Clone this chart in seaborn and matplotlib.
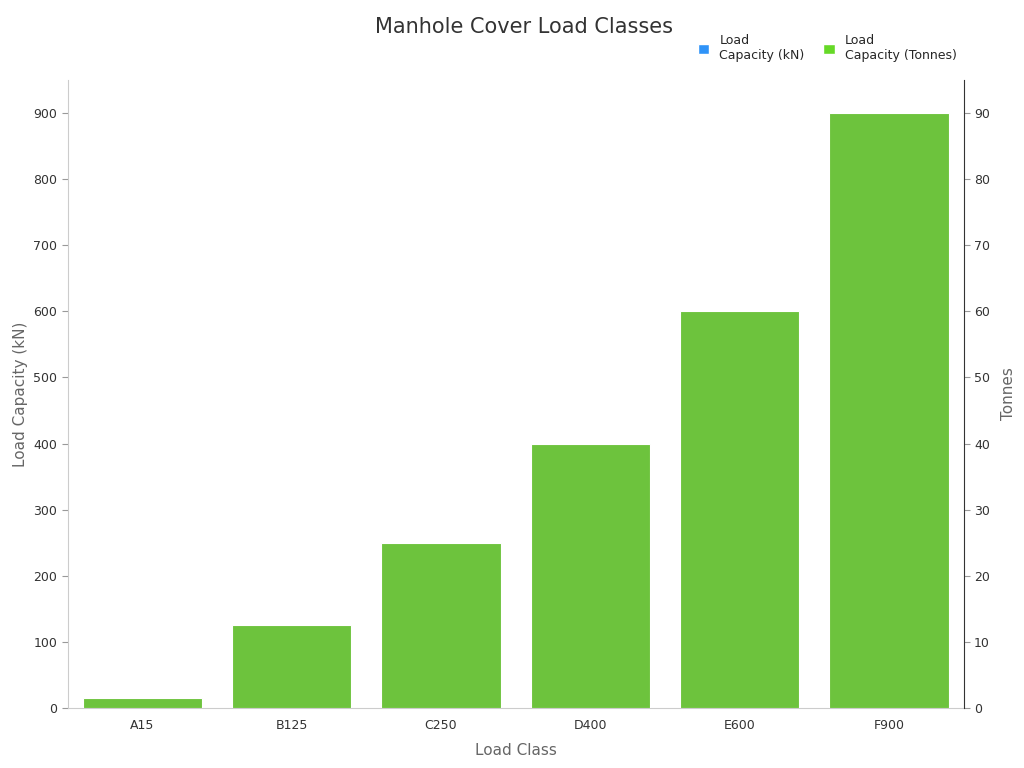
import matplotlib
matplotlib.use("Agg")
import matplotlib.pyplot as plt
import seaborn as sns
import pandas as pd
from matplotlib.patches import Patch

classes = ["A15", "B125", "C250", "D400", "E600", "F900"]
kn = [15, 125, 250, 400, 600, 900]
tonnes = [1.5, 12.5, 25, 40, 60, 90]
kn_labels = ["15", "125", "250", "400", "600", "900"]
t_labels = ["1.5", "12.5", "25", "40", "60", "90"]
series = ["Load\nCapacity (kN)", "Load\nCapacity (Tonnes)"]
colors = ["#2f93f8", "#66d927"]

sns.set_style("white")
plt.rcParams['font.family'] = ['DejaVu Sans']

df_kn = pd.DataFrame({"cls": classes, "val": kn, "s": series[0]})
df_t = pd.DataFrame({"cls": classes, "val": tonnes, "s": series[1]})

fig = plt.figure(figsize=(10.24, 7.68), dpi=100)
ax = fig.add_axes([0.066, 0.078, 0.875, 0.818])
ax2 = ax.twinx()
pal = dict(zip(series, colors))
sns.barplot(data=df_kn, x="cls", y="val", hue="s", hue_order=series, palette=pal,
            ax=ax, width=0.8, edgecolor="white", linewidth=0.8, legend=False)
sns.barplot(data=df_t, x="cls", y="val", hue="s", hue_order=series, palette=pal,
            ax=ax2, width=0.8, edgecolor="white", linewidth=0.8, legend=False)
ax.set_ylim(0, 950)
ax2.set_ylim(0, 95)
ax.set_yticks(range(0, 901, 100))
ax2.set_yticks(range(0, 91, 10))

for c, lab in zip(ax.containers, [kn_labels]):
    for bar, l in zip(c, lab):
        fs = 4 if l == "15" else 9
        ax.text(bar.get_x() + bar.get_width() / 2, bar.get_height() - (3 if fs == 4 else 12),
                l, ha="center", va="center", fontsize=fs, color="#333333")
for c, lab in zip(ax2.containers, [t_labels]):
    for bar, l in zip(c, lab):
        fs = 4 if l == "1.5" else 9
        ax2.text(bar.get_x() + bar.get_width() / 2, bar.get_height() - (0.3 if fs == 4 else 1.2),
                 l, ha="center", va="center", fontsize=fs, color="#333333")

ax.set_xlabel("Load Class", fontsize=11, color="#666666", labelpad=8)
ax.set_ylabel("Load Capacity (kN)", fontsize=11, color="#666666")
ax2.set_ylabel("Tonnes", fontsize=11, color="#666666", labelpad=8)
for a in (ax, ax2):
    a.tick_params(axis="both", labelsize=9, colors="#333333", length=4, color="#999999")
    for s in a.spines.values():
        s.set_color("#cccccc")
    a.spines["top"].set_visible(False)
ax.spines["right"].set_visible(False)
ax2.spines["left"].set_visible(False)
ax2.spines["bottom"].set_visible(False)
ax2.spines["right"].set_color("#333333")
ax.spines["left"].set_color("#cccccc")
ax.tick_params(axis="x", length=4)

fig.text(0.512, 0.957, "Manhole Cover Load Classes", ha="center", fontsize=15, color="#333333")
handles = [Patch(facecolor=c, label=s) for c, s in zip(colors, series)]
fig.legend(handles=handles, loc="upper right", bbox_to_anchor=(0.945, 0.97), ncol=2,
           frameon=False, fontsize=9, handlelength=0.9, handleheight=0.9, columnspacing=1.5)
fig.savefig("out.png", dpi=100)
